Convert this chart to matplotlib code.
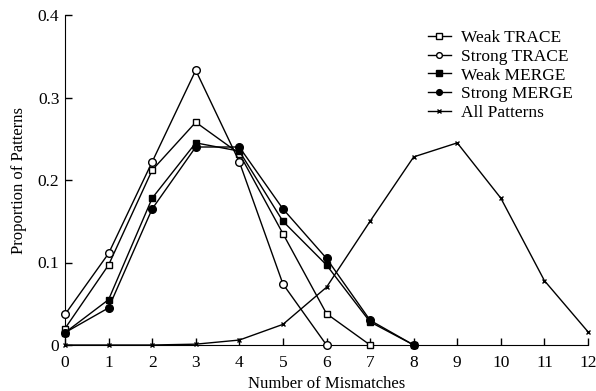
import matplotlib
matplotlib.use("Agg")
import matplotlib.pyplot as plt

plt.rcParams['font.family'] = ['Liberation Serif', 'DejaVu Serif']

# mismatch counts
x_all = list(range(0, 13))

weak_trace_x = [0, 1, 2, 3, 4, 5, 6, 7]
weak_trace = [0.020, 0.097, 0.212, 0.270, 0.232, 0.135, 0.038, 0.0]

strong_trace_x = [0, 1, 2, 3, 4, 5, 6]
strong_trace = [0.037, 0.111, 0.222, 0.333, 0.222, 0.074, 0.0]

weak_merge_x = [0, 1, 2, 3, 4, 5, 6, 7, 8]
weak_merge = [0.015, 0.055, 0.178, 0.245, 0.235, 0.150, 0.097, 0.028, 0.0]

strong_merge_x = [0, 1, 2, 3, 4, 5, 6, 7, 8]
strong_merge = [0.015, 0.045, 0.165, 0.240, 0.240, 0.165, 0.105, 0.030, 0.0]

all_patterns = [0.0, 0.0, 0.0, 0.001, 0.006, 0.025, 0.070, 0.150, 0.228,
                0.245, 0.178, 0.078, 0.016]

fig = plt.figure(figsize=(5.96, 3.91), dpi=100)
ax = fig.add_axes([65/596, 1 - 345/391, (588-65)/596, (345-15)/391])

lw = 1.0
ax.plot(weak_trace_x, weak_trace, '-s', color='black', mfc='white', ms=5, lw=lw, label='Weak TRACE', clip_on=False, zorder=3)
ax.plot(strong_trace_x, strong_trace, '-o', color='black', mfc='white', ms=5.5, lw=lw, label='Strong TRACE', clip_on=False, zorder=3)
ax.plot(weak_merge_x, weak_merge, '-s', color='black', mfc='black', ms=5, lw=lw, label='Weak MERGE', clip_on=False, zorder=3)
ax.plot(strong_merge_x, strong_merge, '-o', color='black', mfc='black', ms=5.5, lw=lw, label='Strong MERGE', clip_on=False, zorder=3)
ax.plot(x_all, all_patterns, '-x', color='black', ms=3.5, mew=1.0, lw=lw, label='All Patterns', clip_on=False, zorder=3)

ax.set_xlim(0, 12)
ax.set_ylim(0, 0.4)
ax.set_xticks(x_all)
ax.set_yticks([0, 0.1, 0.2, 0.3, 0.4])
ax.set_yticklabels(['0', '0.1', '0.2', '0.3', '0.4'])
ax.spines['top'].set_visible(False)
ax.spines['right'].set_visible(False)
ax.tick_params(direction='in', length=5, labelsize=12.5, width=1)
ax.tick_params(axis='x', pad=7)
ax.tick_params(axis='y', pad=4)
ax.set_xlabel('Number of Mismatches', fontsize=12, labelpad=4)
ax.set_ylabel('Proportion of Patterns', fontsize=12, labelpad=8)

ax.legend(loc='upper left', bbox_to_anchor=((428 - 65) / 523, 0.955), frameon=False, fontsize=12.5,
          handlelength=1.3, handletextpad=0.6, labelspacing=0.15, markerscale=0.75,
          borderaxespad=0, borderpad=0)

fig.savefig('out.png', dpi=100)
